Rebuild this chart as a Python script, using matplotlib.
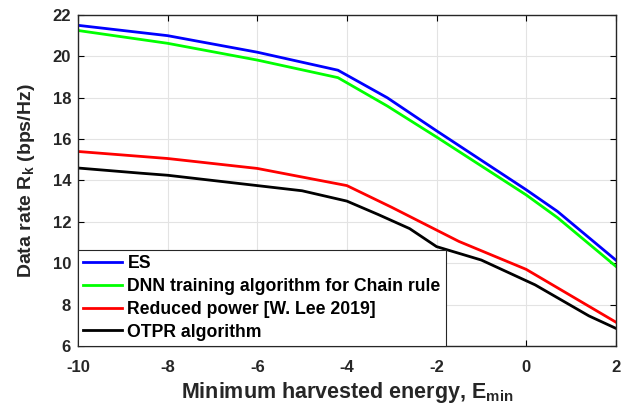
import matplotlib
matplotlib.use('Agg')
import matplotlib.pyplot as plt

# values
x_es = [-10, -8, -6, -4.2, -3.1, -2, 0, 0.7, 2]
y_es = [21.5, 21.0, 20.2, 19.33, 18.0, 16.4, 13.55, 12.5, 10.15]

x_dnn = [-10, -8, -6, -4.2, -3.1, -2, 0, 0.7, 2]
y_dnn = [21.25, 20.63, 19.82, 18.97, 17.6, 16.1, 13.3, 12.2, 9.85]

x_red = [-10, -8, -6, -4, -3, -2, -1.5, 0, 2]
y_red = [15.4, 15.06, 14.58, 13.75, 12.7, 11.6, 11.05, 9.7, 7.15]

x_otpr = [-10, -8.6, -8, -7, -6, -5, -4, -3.3, -2.6, -2, -1, 0.2, 1.4, 2]
y_otpr = [14.6, 14.35, 14.25, 14.0, 13.75, 13.5, 13.0, 12.35, 11.67, 10.8, 10.15, 8.95, 7.45, 6.85]

labels = ['ES', 'DNN training algorithm for Chain rule',
          'Reduced power [W. Lee 2019]', 'OTPR algorithm']
colors = ['#0000ff', '#00ff00', '#ff0000', '#000000']

plt.rcParams['font.family'] = ['Liberation Sans', 'DejaVu Sans']
plt.rcParams['axes.unicode_minus'] = False
plt.rcParams['mathtext.fontset'] = 'custom'
plt.rcParams['mathtext.rm'] = 'Liberation Sans:bold'
plt.rcParams['mathtext.it'] = 'Liberation Sans:bold'
plt.rcParams['mathtext.bf'] = 'Liberation Sans:bold'

fig = plt.figure(figsize=(6.22, 4.05), dpi=100)
ax = fig.add_axes([0.1254, 0.146, 0.8646, 0.817])

for xs, ys, c, lab in zip([x_es, x_dnn, x_red, x_otpr],
                          [y_es, y_dnn, y_red, y_otpr], colors, labels):
    ax.plot(xs, ys, color=c, linewidth=2.0, label=lab)

ax.set_xlim(-10, 2)
ax.set_ylim(6, 22)
ax.set_xticks(range(-10, 3, 2))
ax.set_yticks(range(6, 23, 2))
ax.grid(True, color='#e3e3e3', linewidth=0.8)
ax.set_axisbelow(True)
ax.tick_params(direction='in', top=True, right=True, labelsize=12,
               labelcolor='#262626', length=4, width=0.8)
ax.tick_params(axis='x', pad=10.5)
ax.tick_params(axis='y', pad=5)
for t in ax.get_xticklabels() + ax.get_yticklabels():
    t.set_fontweight('bold')
for sp in ax.spines.values():
    sp.set_linewidth(1.0)
    sp.set_color('#262626')

ax.set_xlabel('Minimum harvested energy, E$_{\\mathrm{min}}$', fontsize=15.5,
              fontweight='bold', color='#262626', labelpad=3)
ax.set_ylabel('Data rate R$_{\\mathrm{k}}$ (bps/Hz)', fontsize=14,
              fontweight='bold', color='#262626', labelpad=11)

leg = ax.legend(loc='lower left', frameon=True, fancybox=False,
                prop={'family': 'Liberation Sans', 'weight': 'bold', 'size': 12.7},
                borderaxespad=0.0, handlelength=2.2, handletextpad=0.3,
                labelspacing=0.33, borderpad=0.3)
leg.get_frame().set_edgecolor('#262626')
leg.get_frame().set_linewidth(0.8)
leg.get_frame().set_alpha(1.0)

fig.savefig('out.png', dpi=100)
